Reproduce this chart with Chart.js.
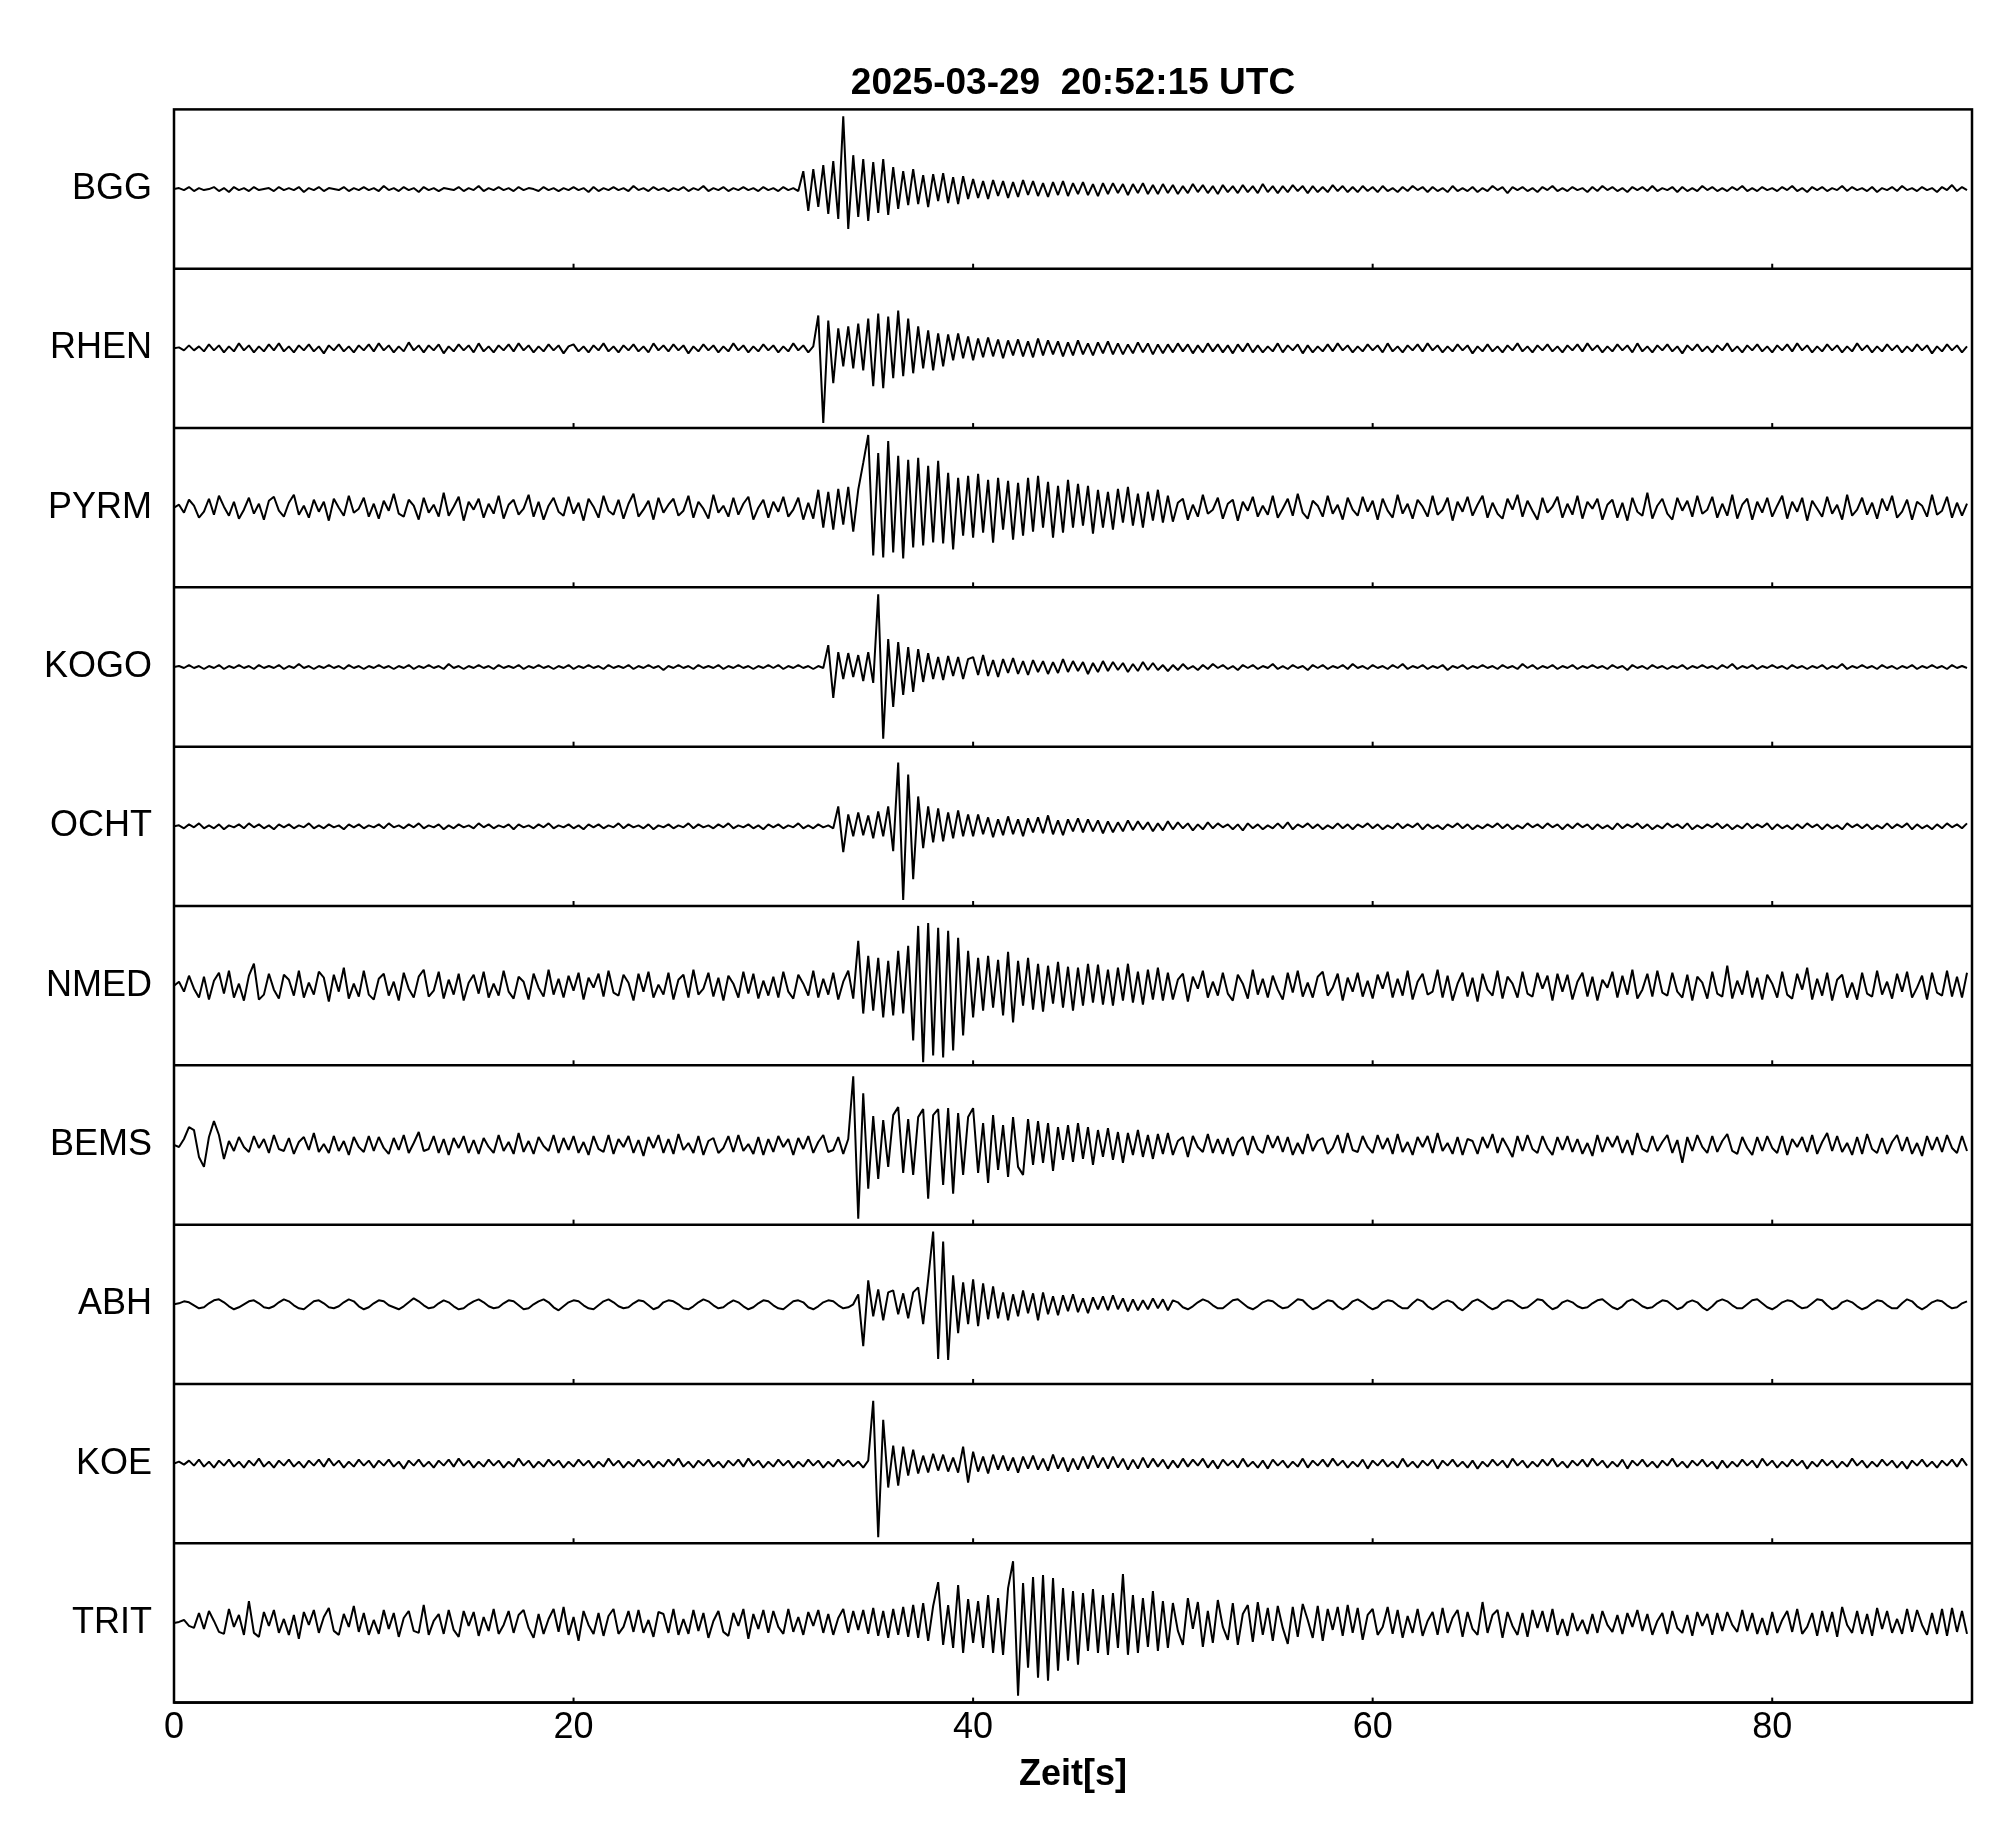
<!DOCTYPE html>
<html>
<head>
<meta charset="utf-8">
<script src="https://cdn.jsdelivr.net/npm/chart.js@4/dist/chart.umd.min.js"></script>
<style>
  html, body { margin: 0; padding: 0; background: #fff; }
  #wrap { position: relative; width: 2005px; height: 1841px; }
</style>
</head>
<body>
<div id="wrap"><canvas id="seismo"></canvas></div>
<script>
const chartTitle = '2025-03-29  20:52:15 UTC';
const stations = ['BGG', 'RHEN', 'PYRM', 'KOGO', 'OCHT', 'NMED', 'BEMS', 'ABH', 'KOE', 'TRIT'];
const timeStep = 0.25; // seconds between samples
const xTicks = [0, 20, 40, 60, 80];

// amplitudes, one row = 5 s
const bgg = [
  0,1,-1,2,-2,1,-1,0,2,-2, 1,-3,2,-1,1,-2,2,-1,0,1,
  -2,2,-1,1,-1,2,-3,1,-1,2, -2,1,0,-1,2,-2,1,-1,2,-1,
  1,-2,3,-1,1,-2,2,-1,1,-3, 2,-1,1,-2,1,0,-1,2,-2,1,
  -1,3,-2,1,-1,2,-1,1,-2,2, -1,1,0,-2,2,-1,1,-2,1,-1,
  2,-1,1,-3,2,-2,1,-1,2,-1, 1,-2,3,-1,1,-2,2,-1,1,-2,
  1,-1,2,-2,1,-1,3,-2,1,-1, 2,-2,1,-1,2,-1,1,-2,2,-1,
  1,-2,2,-1,1,-2,18,-22,20,-18, 24,-25,28,-30,73,-40,34,-28,30,-32,
  27,-24,30,-26,22,-20,18,-16,20,-15, 14,-18,15,-12,16,-14,12,-15,13,-10,
  10,-9,8,-10,9,-7,8,-9,7,-8, 9,-6,8,-7,6,-8,7,-6,8,-7,
  6,-5,7,-6,5,-7,6,-5,6,-4, 5,-6,5,-4,6,-5,4,-5,5,-4,
  4,-5,3,-4,5,-3,4,-4,3,-5, 4,-3,3,-4,4,-3,3,-4,5,-3,
  3,-4,3,-3,4,-2,3,-4,3,-3, 2,-3,4,-2,3,-3,2,-3,3,-2,
  2,-3,3,-2,1,-3,2,-2,3,-1, 2,-3,2,-2,1,-3,3,-2,1,-2,
  2,-3,1,-2,3,-1,2,-4,2,-1, 2,-2,1,-3,2,-1,3,-2,1,-2,
  2,-1,1,-3,2,-2,3,-1,2,-2, 1,-3,2,-1,2,-2,3,-2,1,-1,
  2,-3,2,-2,1,-2,3,-1,2,-2, 1,-2,2,-1,3,-2,1,-2,2,-1,
  1,-2,2,-1,3,-2,1,-3,2,-1, 2,-2,1,-1,3,-2,2,-1,1,-2,
  2,-3,1,-1,2,-2,3,-1,1,-2, 2,-1,1,-3,2,-1,4,-2,2,-1
];
const rhen = [
  0,1,-2,3,-2,2,-3,4,-2,3, -4,2,-3,5,-2,3,-4,2,-3,4,
  -2,5,-3,2,-4,3,-2,4,-3,2, -5,3,-2,4,-3,2,-4,3,-2,4,
  -3,5,-2,3,-4,2,-3,6,-2,3, -4,3,-2,4,-5,2,-3,4,-2,3,
  -4,5,-3,2,-4,3,-2,4,-3,5, -2,3,-4,2,-3,4,-2,3,-5,2,
  4,-3,2,-4,3,-2,5,-3,2,-4, 3,-2,4,-3,2,-4,5,-2,3,-3,
  4,-2,3,-5,2,-3,4,-2,3,-4, 2,-3,5,-2,3,-4,2,-3,4,-2,
  3,-4,2,-3,5,-2,3,-4,2,33, -75,28,-35,20,-18,22,-20,25,-22,30,
  -38,35,-40,32,-30,38,-28,30,-25,22, -20,18,-22,15,-18,14,-12,15,-10,12,
  -12,10,-9,11,-8,9,-10,8,-7,9, -8,7,-9,10,-7,8,-6,7,-8,6,
  -7,8,-6,5,-7,6,-5,7,-6,5, -6,4,-5,6,-4,5,-6,4,-5,4,
  -4,5,-3,4,-5,3,-4,5,-3,4, -4,3,-5,4,-3,5,-4,3,-4,2,
  -3,5,-4,3,-2,4,-5,3,-4,2, -3,4,-3,5,-2,3,-4,2,-3,4,
  -2,3,-4,5,-3,2,-4,3,-2,4, -3,5,-2,3,-4,2,-3,4,-2,3,
  -5,2,-3,4,-3,2,-4,3,-2,5, -3,2,-4,3,-2,4,-3,2,-4,3,
  -2,4,-3,5,-2,3,-4,2,-3,4, -2,3,-4,5,-3,2,-4,3,-2,4,
  -3,2,-5,3,-2,4,-3,2,-4,3, -2,5,-3,2,-4,3,-2,4,-3,2,
  -4,3,-2,4,-3,5,-2,3,-4,2, -3,4,-2,3,-4,2,-3,5,-2,3,
  -4,2,-3,4,-2,3,-4,2,-3,4, -2,3,-5,2,-3,4,-2,3,-4,2
];
const pyrm = [
  0,3,-5,8,2,-10,-4,9,-7,12, 1,-8,6,-11,-2,10,-6,4,-12,7,
  11,-3,-9,5,13,-7,2,-10,8,-4, 6,-13,9,0,-8,12,-5,-1,10,-9,
  4,-11,7,-3,14,-6,-9,8,2,-12, 10,-5,3,-9,15,-8,1,11,-13,6,
  -2,9,-10,4,-6,12,-11,3,8,-7, -1,13,-9,6,-12,2,10,-4,-8,11,
  -6,5,-13,9,1,-10,12,-3,-7,8, -11,4,14,-9,-2,7,-12,10,-5,3,
  9,-8,-3,12,-10,6,-1,-11,13,-5, 2,-9,10,-7,4,11,-12,0,8,-10,
  6,-4,11,-9,-2,10,-12,5,-11,18, -20,16,-22,19,-17,21,-24,18,45,73,
  -48,55,-50,67,-45,52,-51,48,-40,50, -38,42,-35,47,-36,35,-42,30,-28,32,
  -30,34,-25,28,-35,30,-22,27,-32,25, -28,30,-24,32,-20,26,-30,22,-25,28,
  -20,24,-18,22,-26,18,-20,16,-22,19, -15,21,-18,14,-20,16,-13,18,-15,12,
  -14,5,9,-12,3,-9,13,-6,-2,10, -11,4,8,-13,6,-3,11,-9,2,-7,
  12,-10,-1,9,-8,14,-5,-11,7,2, -9,12,-6,3,-12,10,-2,-8,11,-4,
  7,-12,9,-3,-10,13,-6,4,-11,8, 1,-9,12,-7,-2,10,-13,6,-4,11,
  -8,3,12,-10,5,-6,-11,9,-2,13, -9,7,-3,-12,10,-5,1,11,-10,4,
  -7,12,-11,6,-1,9,-12,3,8,-10, 5,-13,10,-4,-8,15,-11,2,9,-6,
  -12,10,-3,7,-9,12,-6,-2,11,-10, 4,-8,13,-11,3,9,-12,6,-5,10,
  -9,2,12,-11,6,-4,10,-13,7,-1, -9,11,-6,3,-12,13,-8,-2,10,-7,
  5,-11,9,-3,12,-10,-4,8,-12,6, 2,-9,13,-7,-3,11,-10,5,-8,4
];
const kogo = [
  0,1,-1,2,-1,1,-2,1,-1,2, -2,1,-1,2,-1,1,-2,2,-1,1,
  -1,2,-2,1,-1,3,-1,1,-2,1, -1,2,-1,1,-2,2,-1,1,-2,1,
  -1,2,-1,1,-2,1,-1,2,-2,1, -1,2,-1,1,-2,3,-1,1,-2,1,
  -1,2,-1,1,-2,2,-1,1,-1,2, -2,1,-1,2,-1,1,-2,1,-1,2,
  -2,1,-1,2,-1,1,-2,2,-1,1, -1,2,-2,1,-1,2,-1,1,-3,1,
  -1,2,-1,1,-2,2,-1,1,-1,2, -2,1,-1,2,-1,1,-2,1,-1,2,
  -1,2,-2,1,-1,2,-1,1,-2,1, -1,22,-31,15,-12,14,-10,12,-14,15,
  -16,73,-72,28,-40,25,-28,20,-25,18, -15,14,-12,10,-13,11,-9,10,-12,8,
  10,-8,12,-9,7,-10,8,-6,9,-7, 6,-8,7,-5,6,-7,5,-6,8,-5,
  6,-4,5,-7,4,-5,6,-4,5,-3, 4,-5,3,-4,5,-3,4,-3,2,-4,
  2,-3,3,-2,1,-3,2,-2,3,-1, 2,-2,1,-3,2,-1,2,-2,1,-1,
  3,-2,1,-2,2,-1,1,-3,2,-1, 2,-2,1,-1,2,-2,3,-1,1,-2,
  2,-1,1,-2,2,-1,3,-2,1,-1, 2,-2,1,-1,2,-3,1,-1,2,-2,
  1,-1,2,-1,1,-2,2,-1,1,-2, 3,-1,2,-2,1,-1,2,-2,1,-1,
  2,-2,1,-1,2,-1,1,-2,2,-1, 1,-3,2,-1,1,-2,2,-1,1,-2,
  1,-1,2,-2,1,-1,2,-1,1,-2, 2,-1,3,-2,1,-1,2,-2,1,-1,
  2,-1,1,-2,2,-1,1,-2,1,-1, 2,-2,1,-1,3,-2,1,-1,2,-1,
  1,-2,2,-1,1,-2,1,-1,2,-2, 1,-1,2,-1,1,-2,2,-1,1,-1
];
const ocht = [
  0,1,-2,2,-1,3,-2,1,-2,2, -3,1,-1,2,-2,3,-1,2,-2,1,
  -3,2,-1,2,-2,1,-1,3,-2,1, -2,2,-1,1,-3,2,-1,2,-2,1,
  -1,2,-2,3,-1,1,-2,2,-1,3, -2,1,-1,2,-3,1,-2,2,-1,1,
  -2,3,-1,2,-2,1,-1,2,-3,2, -1,1,-2,2,-1,3,-2,1,-1,2,
  -2,1,-3,2,-1,2,-2,1,-1,3, -2,2,-1,1,-2,2,-3,1,-1,2,
  -2,1,-1,3,-2,2,-1,1,-2,2, -1,3,-2,1,-1,2,-2,1,-3,2,
  -1,2,-2,1,-1,3,-2,1,-2,2, -1,1,-2,20,-26,12,-10,14,-9,11,
  -12,15,-10,20,-25,64,-74,52,-53,30, -22,20,-16,18,-15,14,-12,16,-10,12,
  -10,12,-8,9,-11,7,-9,10,-8,7, -10,8,-6,9,-7,11,-8,6,-9,7,
  -5,8,-6,7,-5,6,-7,5,-6,4, -5,6,-4,5,-3,4,-5,3,-4,5,
  -3,4,-2,3,-4,2,-3,4,-2,3, -1,2,-3,2,-4,3,-2,2,-3,1,
  -2,3,-2,4,-3,2,-1,3,-2,2, -3,1,-2,3,-2,2,-3,2,-1,3,
  -2,2,-3,1,-2,3,-2,2,-1,3, -3,2,-2,1,-3,2,-1,3,-2,2,
  -3,1,-2,2,-1,3,-2,2,-3,1, -2,3,-1,2,-2,3,-1,2,-3,2,
  -2,3,-1,2,-3,2,-2,1,-3,3, -2,2,-1,3,-2,2,-3,1,-2,3,
  -1,2,-2,3,-3,1,-2,2,-1,3, -2,2,-3,1,-2,3,-2,2,-1,3,
  -3,2,-2,1,-3,2,-2,3,-1,2, -3,2,-2,1,-3,3,-1,2,-2,2,
  -3,1,-2,3,-2,2,-1,3,-3,2, -2,1,-3,2,-2,3,-1,2,-2,3
];
const nmed = [
  0,4,-6,10,-3,-12,9,-14,5,13, -8,15,-12,2,-15,10,22,-14,-9,12,
  -4,-13,11,6,-10,15,-12,3,-9,14, 8,-16,11,-6,18,-13,2,-11,15,-9,
  -14,7,12,-10,4,-15,13,-3,-12,9, 16,-11,-5,14,-13,6,-9,12,-15,3,
  11,-8,14,-12,2,-10,15,-6,-13,9, 4,-14,12,-2,-11,16,-9,7,-12,10,
  -5,13,-14,8,-2,12,-11,15,-7,-10, 11,3,-15,12,-6,14,-12,1,-9,13,
  -14,6,11,-12,16,-9,-3,13,-11,8, -15,10,2,-12,14,-8,12,-13,5,-10,
  9,-12,14,-6,-13,11,2,-10,15,-12, 7,-9,13,-14,4,15,-13,45,-28,30,
  -25,28,-32,25,-30,35,-28,40,-55,60, -77,63,-70,58,-72,55,-65,48,-50,35,
  -32,28,-25,30,-22,26,-30,34,-37,25, -20,28,-24,22,-26,20,-18,24,-22,19,
  -25,18,-20,22,-17,21,-19,16,-20,18, -15,22,-17,14,-19,16,-14,18,-15,13,
  -14,6,12,-16,9,-3,15,-12,4,-10, 13,-8,-15,11,2,-13,16,-9,7,-12,
  10,-4,-14,13,-7,15,-11,3,-12,9, 14,-10,-2,12,-15,8,-6,13,-11,5,
  -13,11,-3,14,-12,7,-10,15,-14,4, 12,-9,-6,16,-12,10,-15,2,13,-11,
  8,-16,12,-4,-10,15,-13,9,2,-12, 14,-8,-11,13,-3,10,-15,12,-6,11,
  -14,4,13,-11,9,-15,6,-2,14,-12, 10,-9,16,-13,-4,12,-11,15,-7,-10,
  13,-6,-12,11,-15,9,3,-13,14,-8, -11,20,-13,5,-9,15,-12,8,-14,11,
  2,-12,14,-9,-13,12,-4,18,-14,7, -10,13,-15,6,11,-12,3,-14,13,-8,
  -11,15,-9,4,-13,12,-6,14,-12,-2, 10,-14,13,-7,-10,15,-11,9,-12,13
];
const bems = [
  0,-2,6,18,15,-12,-22,8,24,10, -14,4,-6,8,-2,-7,9,-3,6,-8,
  10,-4,-6,7,-9,3,8,-5,12,-7, 1,-8,9,-6,4,-10,8,-2,-7,9,
  -6,8,-3,-9,7,-5,10,-8,2,13, -6,-4,9,-8,6,-10,7,-3,9,-8,
  5,-9,7,-2,-8,10,-6,3,-9,12, -7,4,-9,8,-1,-6,10,-8,7,-5,
  9,-8,3,-10,9,-4,-7,10,-9,6, -2,9,-8,5,-11,8,-3,10,-8,6,
  -9,11,-5,2,-8,9,-10,4,7,-8, -3,9,-7,10,-6,1,-9,8,-10,6,
  -7,9,-2,6,-10,7,-4,9,-8,3, 10,-7,-5,8,-9,6,69,-74,52,-44,
  29,-34,25,-22,30,38,-28,26,-30,28, 36,-54,30,36,-40,37,-49,32,-30,28,
  37,-28,22,-38,30,-25,20,-32,28,-22, -30,26,-20,24,-18,22,-26,18,-15,20,
  -17,22,-14,18,-20,15,-12,17,-15,13, -18,12,-10,15,-12,10,-14,11,-9,12,
  -10,4,8,-12,9,-2,-7,11,-8,6, -9,7,-11,3,8,-10,9,-4,-8,10,
  -3,9,-7,8,-10,2,-9,11,-6,4, 7,-9,-3,10,-8,12,-5,-7,9,-2,
  -8,10,-4,7,-9,11,-7,3,-10,8, -2,9,-8,12,-6,2,-9,8,-10,6,
  4,-9,8,-3,11,-8,7,-2,-12,9, -6,10,-4,-8,9,-3,-10,8,-5,9,
  -7,6,-9,2,-11,10,-7,8,-2,9, -8,5,-10,12,-4,-7,9,-6,3,10,
  -8,5,-18,8,-6,10,-2,-8,9,-7, 4,11,-6,-9,8,-3,-10,8,-6,9,
  -3,-8,9,-10,6,-2,8,-7,10,-9, 3,12,-6,9,-7,2,-10,8,-9,11,
  -4,-8,7,-9,3,10,-6,8,-9,2, -11,9,-5,8,-7,10,-3,-8,9,-6
];
const abh = [
  0,1,3,2,-1,-4,-3,1,4,5, 2,-2,-5,-3,0,3,4,1,-3,-4,
  -2,2,5,3,-1,-4,-5,-1,3,4, 1,-3,-4,-2,2,5,3,-2,-5,-3,
  1,4,3,-1,-3,-5,-2,2,6,3, -1,-4,-3,1,4,2,-2,-5,-4,0,
  3,5,2,-2,-4,-3,1,4,3,-1, -5,-4,0,3,5,2,-3,-6,-2,2,
  4,3,-1,-4,-5,-1,3,5,2,-2, -4,-3,1,4,3,-1,-5,-3,2,4,
  3,0,-4,-5,-2,2,5,3,-1,-4, -3,1,4,2,-2,-5,-3,1,4,3,
  -1,-4,-5,-1,3,4,2,-3,-5,-2, 2,4,3,-1,-4,-3,0,10,-42,24,
  -12,15,-16,12,14,-10,11,-14,12,17, -20,25,73,-55,63,-56,29,-29,22,-20,
  25,-22,21,-15,18,-14,12,-16,10,-12, 14,-9,11,-16,12,-10,8,-11,9,-7,
  10,-8,6,-9,7,-5,8,-6,9,-5, 6,-7,5,-6,4,-5,6,-4,5,-6,
  4,2,-3,-5,-2,2,5,3,-1,-4, -4,0,4,5,1,-3,-5,-2,2,4,
  3,-1,-4,-3,1,5,4,-1,-5,-3, 1,4,3,-2,-5,-2,3,5,2,-2,
  -5,-3,2,4,3,-1,-4,-4,1,5, 3,-2,-5,-2,2,4,2,-3,-6,-2,
  3,5,2,-2,-5,-3,2,4,3,-1, -4,-3,1,5,4,-1,-5,-3,2,4,
  2,-2,-4,-3,1,4,5,1,-3,-5, -2,3,5,2,-2,-4,-3,1,4,3,
  -1,-5,-3,2,4,2,-3,-6,-2,3, 5,3,-1,-4,-4,0,4,5,1,-3,
  -5,-2,2,4,3,-1,-4,-3,1,5, 4,-1,-5,-3,2,4,2,-2,-5,-3,
  1,4,3,-1,-4,-4,1,5,3,-2, -5,-2,2,4,3,-1,-4,-3,1,3
];
const koe = [
  0,2,-1,3,-2,4,-3,2,-4,3, -2,4,-3,2,-4,3,-2,5,-3,2,
  -4,3,-2,4,-3,2,-4,3,-2,4, -3,5,-2,3,-4,2,-3,4,-2,3,
  -4,3,-2,4,-3,2,-5,3,-2,4, -3,2,-4,3,-2,4,-3,5,-2,3,
  -4,2,-3,4,-2,3,-4,2,-3,5, -2,3,-4,2,-3,4,-2,3,-4,2,
  -3,4,-2,3,-4,2,-3,5,-2,3, -4,2,-3,4,-2,3,-4,2,-3,4,
  -2,5,-3,2,-4,3,-2,4,-3,2, -4,3,-2,4,-3,5,-2,3,-4,2,
  -3,4,-2,3,-4,2,-3,4,-2,3, -4,2,-3,4,-2,3,-3,2,-4,3,
  63,-74,44,-24,18,-22,17,-12,14,-10, 8,-9,10,-7,9,-8,6,-9,17,-19,
  12,-8,7,-10,9,-6,8,-7,6,-9, 7,-5,8,-6,5,-7,9,-5,6,-8,
  5,-6,7,-5,8,-4,6,-5,7,-4, 5,-6,4,-5,6,-4,5,-3,4,-5,
  3,-4,5,-3,4,-2,5,-4,3,-5, 4,-2,3,-4,5,-3,2,-4,3,-5,
  4,-2,3,-4,2,-3,5,-4,3,-2, 4,-3,5,-2,3,-4,2,-3,4,-5,
  3,-2,4,-3,2,-4,5,-3,2,-4, 3,-2,4,-5,3,-2,4,-3,2,-4,
  3,-5,2,-3,4,-2,3,-4,5,-2, 3,-4,2,-3,4,-2,5,-3,2,-4,
  3,-2,4,-3,5,-2,3,-4,2,-3, 4,-5,3,-2,4,-3,2,-4,3,-2,
  5,-3,2,-4,3,-2,4,-3,2,-5, 3,-4,2,-3,4,-2,3,-4,5,-2,
  3,-4,2,-3,4,-2,3,-5,2,-3, 4,-2,3,-4,2,-3,5,-2,3,-4,
  2,-3,4,-2,3,-4,2,-5,3,-2, 4,-3,2,-4,3,-2,4,-3,5,-2
];
const trit = [
  0,1,3,-3,-5,10,-6,12,2,-9, -11,14,-4,8,-12,22,-10,-14,11,-3,
  13,-10,4,-12,8,-16,11,-2,13,-10, 6,15,-8,-12,9,-4,17,-9,10,-12,
  3,-11,13,-6,10,-14,5,12,-8,-10, 18,-12,2,9,-11,13,-7,-14,12,-3,
  11,-13,6,-8,14,-11,-2,12,-10,8, 13,-5,-15,9,-11,4,14,-9,16,-12,
  6,-18,12,-2,-11,10,-13,7,14,-11, -4,12,-9,13,-10,3,-14,11,9,-10,
  14,-12,4,-11,13,-8,10,-15,2,12, -9,-13,10,-3,14,-16,9,-6,13,-10,
  12,-4,-11,14,-9,6,-12,11,-3,13, -10,9,-12,5,14,-10,12,-7,13,-11,
  15,-13,12,-15,14,-12,16,-14,18,-15, 20,-18,17,41,-22,18,-25,38,-30,24,
  -20,22,-25,28,-30,25,-32,35,62,-73, 40,-45,46,-55,48,-58,45,-48,35,-38,
  32,-42,30,-28,34,-30,28,-32,30,-25, 49,-32,28,-30,25,-24,32,-28,22,-25,
  20,-8,-22,25,-6,21,-24,12,-20,23, -4,-17,20,-22,9,18,-19,21,-12,15,
  -18,17,-5,-21,16,-14,19,3,-15,17, -18,14,-7,16,-13,18,-10,15,-17,8,
  14,-12,-4,16,-11,13,-15,7,-10,14, -13,2,11,-12,15,-10,5,13,-14,11,
  -6,-12,21,-10,8,13,-15,11,-3,-12, 10,-14,13,-5,12,-9,14,-12,4,-13,
  10,-8,3,-11,9,-10,12,-2,-9,8, -11,10,-4,13,-8,9,-12,2,10,-11,
  12,-5,-10,8,-13,11,-3,9,-12,10, -8,11,-2,-9,13,-8,10,-11,5,-12,
  11,-10,3,12,-9,14,-11,-4,10,-13, 12,-9,11,-14,16,-2,-10,12,-11,9,
  -13,15,-6,12,-10,4,-11,14,-9,13, -2,-12,10,-11,14,-13,15,-9,12,-11
];

const traces = [bgg, rhen, pyrm, kogo, ocht, nmed, bems, abh, koe, trit];

Chart.defaults.font.family = "'Liberation Sans', Arial, sans-serif";
Chart.defaults.color = '#000';

const datasets = traces.map((vals, i) => ({
    label: stations[i],
    data: vals.map((v, k) => ({ x: k * timeStep, y: v })),
    yAxisID: 'y' + i,
    borderColor: '#000',
    borderWidth: 2,
    borderJoinStyle: 'bevel',
    pointRadius: 0,
    tension: 0,
    fill: false
}));

const scales = {
    x: {
        type: 'linear',
        position: 'bottom',
        min: 0,
        max: 90,
        ticks: { stepSize: 20, includeBounds: false, font: { size: 36 }, padding: 4 },
        grid: { display: false, drawTicks: false },
        border: { display: false },
        title: { display: true, text: 'Zeit[s]', font: { size: 36, weight: 'bold' }, padding: { top: 0, bottom: 8 } }
    }
};
// added bottom-up so that the first station lands in the top panel
for (let i = stations.length - 1; i >= 0; i--) {
    scales['y' + i] = {
        type: 'linear',
        position: 'left',
        stack: 'traces',
        stackWeight: 1,
        min: -80,
        max: 80,
        afterBuildTicks: s => { s.ticks = [{ value: 0 }]; },
        afterFit: s => { s.width = 174; },
        ticks: { callback: () => stations[i], font: { size: 36 }, padding: 22 },
        grid: { display: false, drawTicks: false },
        border: { display: false }
    };
}

// frame of every panel plus the small inward ticks at 20, 40, 60, 80
const panelFrame = {
    id: 'panelFrame',
    afterDatasetsDraw(chart) {
        const { ctx, chartArea: a, scales: sc } = chart;
        ctx.save();
        ctx.strokeStyle = '#000';
        ctx.lineWidth = 2.5;
        ctx.strokeRect(a.left, a.top, a.right - a.left, a.bottom - a.top);
        stations.forEach((s, i) => {
            const ys = sc['y' + i];
            const yb = ys.getPixelForValue(ys.min);
            ctx.lineWidth = 2.5;
            ctx.beginPath();
            ctx.moveTo(a.left, yb);
            ctx.lineTo(a.right, yb);
            ctx.stroke();
            ctx.lineWidth = 2;
            xTicks.slice(1).forEach(v => {
                const px = sc.x.getPixelForValue(v);
                ctx.beginPath();
                ctx.moveTo(px, yb);
                ctx.lineTo(px, yb - 5);
                ctx.stroke();
            });
        });
        ctx.restore();
    }
};

new Chart(document.getElementById('seismo').getContext('2d'), {
    type: 'line',
    data: { datasets },
    options: {
        responsive: true,
        maintainAspectRatio: false,
        animation: false,
        layout: { padding: { top: 0, right: 33, bottom: 36, left: 0 } },
        plugins: {
            legend: { display: false },
            tooltip: { enabled: false },
            title: {
                display: true,
                text: chartTitle,
                fullSize: false,
                font: { size: 37, weight: 'bold' },
                padding: { top: 62, bottom: 3 }
            }
        },
        scales
    },
    plugins: [panelFrame]
});
</script>
</body>
</html>
